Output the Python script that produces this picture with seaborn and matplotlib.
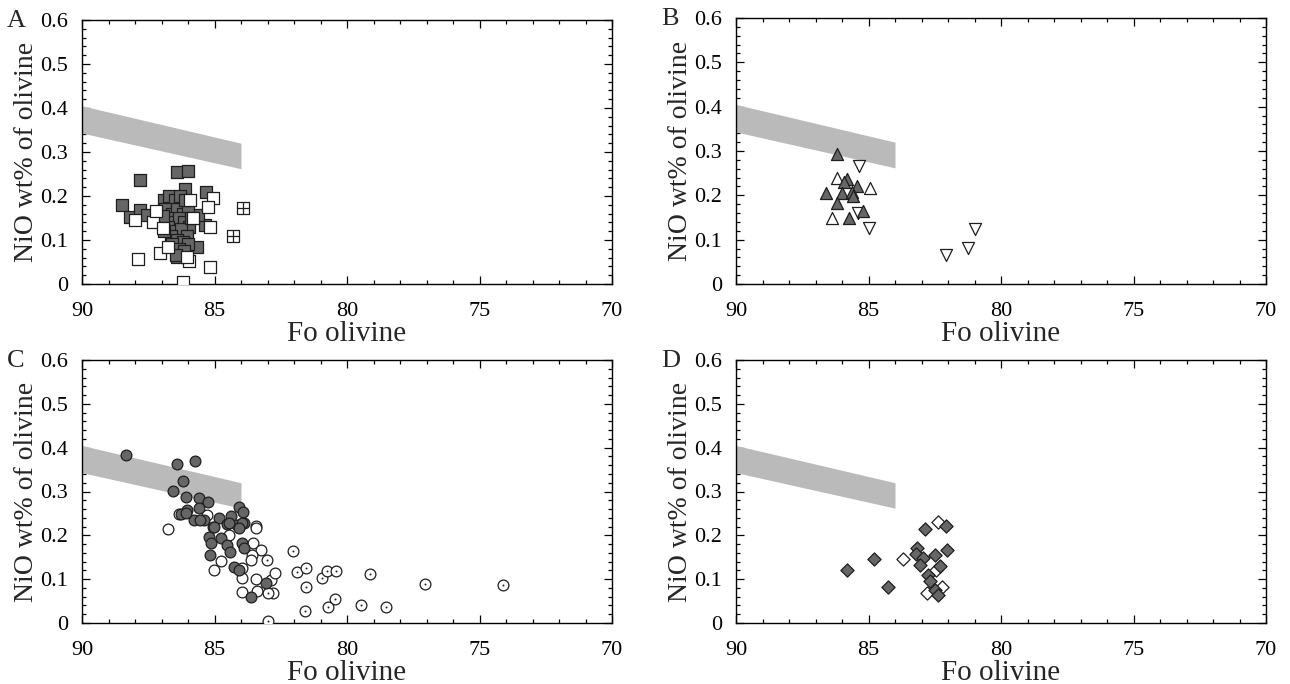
import numpy as np
import pandas as pd
import matplotlib
matplotlib.use("Agg")
import matplotlib.pyplot as plt
from matplotlib.ticker import MultipleLocator, FixedLocator
import seaborn as sns

# ---------------- data ----------------
# mantle olivine array (Fo, NiO upper, NiO lower)
band_fo = [90.0, 84.0]
band_hi = [0.405, 0.320]
band_lo = [0.343, 0.262]

# Panel A: squares
a_fill_fo = [88.50, 88.19, 87.81, 87.81, 87.56, 86.43, 85.99, 85.32, 86.11, 85.36,
             85.61, 85.67, 86.43, 86.90, 86.70, 86.50, 86.30, 86.85, 86.60, 86.40,
             86.20, 86.00, 86.80, 86.55, 86.35, 86.15, 85.95, 86.75, 86.50, 86.25,
             86.05, 86.65, 86.40, 86.20, 86.00, 86.60, 86.35, 86.15, 86.45, 86.90,
             86.95, 85.90, 86.30, 86.10]
a_fill_ni = [0.180, 0.153, 0.236, 0.168, 0.157, 0.254, 0.256, 0.210, 0.215, 0.134,
             0.157, 0.085, 0.062, 0.190, 0.200, 0.190, 0.180, 0.170, 0.160, 0.170,
             0.160, 0.170, 0.150, 0.140, 0.150, 0.140, 0.130, 0.130, 0.120, 0.125,
             0.110, 0.110, 0.100, 0.095, 0.090, 0.090, 0.080, 0.075, 0.065, 0.120,
             0.155, 0.150, 0.200, 0.190]
a_open_fo = [87.87, 87.06, 85.95, 85.17, 86.18, 87.31, 87.21, 88.00, 85.05, 85.23,
             85.17, 85.92, 86.74, 86.05, 86.93, 85.80]
a_open_ni = [0.057, 0.071, 0.053, 0.038, 0.005, 0.142, 0.166, 0.145, 0.195, 0.176,
             0.130, 0.190, 0.085, 0.062, 0.127, 0.149]
a_cross_fo = [83.91, 84.29]
a_cross_ni = [0.172, 0.108]

# Panel B: triangles
b_fill_fo = [86.19, 85.81, 85.94, 86.60, 86.00, 85.42, 85.63, 85.59, 86.17, 85.73, 85.19]
b_fill_ni = [0.293, 0.236, 0.229, 0.205, 0.206, 0.220, 0.208, 0.198, 0.183, 0.149, 0.164]
b_up_fo = [86.17, 84.94, 86.36]
b_up_ni = [0.238, 0.217, 0.149]
b_down_fo = [85.34, 85.38, 85.00, 82.07, 81.23, 80.97]
b_down_ni = [0.267, 0.161, 0.127, 0.066, 0.082, 0.123]

# Panel C: circles
c_fill_fo = [88.33, 86.41, 85.72, 86.18, 86.58, 86.07, 85.59, 85.24, 85.59, 84.08,
             83.92, 86.03, 86.28, 85.78, 85.40, 84.84, 84.37, 84.14, 83.89, 85.05,
             84.52, 86.09, 85.53, 85.03, 84.46, 83.95, 84.08, 85.21, 85.15, 84.77,
             84.52, 84.40, 83.95, 83.89, 85.18, 84.27, 84.08, 83.04, 83.64]
c_fill_ni = [0.383, 0.363, 0.370, 0.325, 0.301, 0.287, 0.286, 0.275, 0.263, 0.265,
             0.253, 0.258, 0.249, 0.235, 0.235, 0.239, 0.245, 0.224, 0.227, 0.220,
             0.226, 0.250, 0.235, 0.220, 0.227, 0.227, 0.216, 0.197, 0.182, 0.193,
             0.178, 0.163, 0.182, 0.170, 0.155, 0.128, 0.122, 0.091, 0.060]
c_open_fo = [86.35, 85.28, 83.45, 86.75, 84.46, 83.42, 83.54, 83.23, 83.58, 83.62,
             83.95, 84.74, 85.03, 83.95, 83.45, 82.86, 82.72, 83.95, 83.39, 82.78]
c_open_ni = [0.249, 0.246, 0.221, 0.214, 0.201, 0.216, 0.183, 0.167, 0.155, 0.144,
             0.125, 0.142, 0.121, 0.102, 0.100, 0.098, 0.113, 0.071, 0.073, 0.068]
c_dot_fo = [83.01, 82.99, 82.99, 82.05, 81.88, 81.53, 81.53, 81.59, 80.94, 80.75,
            80.40, 80.46, 80.71, 79.49, 79.15, 78.51, 77.06, 74.12]
c_dot_ni = [0.144, 0.068, 0.005, 0.165, 0.116, 0.125, 0.081, 0.028, 0.102, 0.119,
            0.119, 0.055, 0.037, 0.040, 0.111, 0.037, 0.088, 0.086]

# Panel D: diamonds
d_fill_fo = [85.82, 84.78, 84.27, 82.09, 82.87, 82.05, 83.18, 83.21, 82.95, 83.06,
             82.49, 82.30, 82.74, 82.68, 82.49, 82.37]
d_fill_ni = [0.122, 0.146, 0.083, 0.222, 0.214, 0.167, 0.170, 0.157, 0.148, 0.132,
             0.154, 0.131, 0.110, 0.096, 0.075, 0.064]
d_open_fo = [82.37, 83.69, 82.45, 82.24, 82.78]
d_open_ni = [0.231, 0.145, 0.122, 0.083, 0.068]

x_ticks = [90, 85, 80, 75, 70]
y_ticks = [0, 0.1, 0.2, 0.3, 0.4, 0.5, 0.6]
y_ticklabels = ["0", "0.1", "0.2", "0.3", "0.4", "0.5", "0.6"]

# ---------------- style ----------------
sns.set_theme(style="ticks")
plt.rcParams["font.family"] = ["Liberation Serif", "DejaVu Serif"]
plt.rcParams["axes.linewidth"] = 1.0

FILL = "#666666"
EDGE = "#1e1e1e"

fig = plt.figure(figsize=(12.9, 6.84), dpi=100)
W, H = 1290.0, 684.0
ax_w = 530 / W
pos = {
    "A": [82 / W, 1 - 284 / H, ax_w, 264 / H],
    "B": [736 / W, 1 - 284 / H, ax_w, 266 / H],
    "C": [82 / W, 1 - 623 / H, ax_w, 263 / H],
    "D": [736 / W, 1 - 623 / H, ax_w, 263 / H],
}


def scatter(ax, fo, ni, marker, size, face, lw=0.9):
    df = pd.DataFrame({"Fo": fo, "NiO": ni})
    sns.scatterplot(data=df, x="Fo", y="NiO", ax=ax, marker=marker, s=size,
                    color=face, edgecolor=EDGE, linewidth=lw, zorder=3)


def setup(ax, letter):
    ax.fill_between(band_fo, band_lo, band_hi, color="#bababa", linewidth=0, zorder=1)
    ax.set_xlim(90, 70)
    ax.set_ylim(0, 0.6)
    ax.xaxis.set_major_locator(FixedLocator(x_ticks))
    ax.set_xticklabels([str(t) for t in x_ticks])
    ax.xaxis.set_minor_locator(MultipleLocator(1))
    ax.yaxis.set_major_locator(FixedLocator(y_ticks))
    ax.set_yticklabels(y_ticklabels)
    ax.yaxis.set_minor_locator(MultipleLocator(0.02))
    ax.tick_params(which="both", direction="in", top=True, right=True,
                   labelsize=16, colors="black", width=0.9)
    ax.tick_params(which="major", length=6)
    ax.tick_params(which="minor", length=3)
    ax.tick_params(axis="x", which="major", pad=13)
    ax.tick_params(axis="y", which="major", pad=10)
    ax.set_xlabel("Fo olivine", fontsize=21, labelpad=0)
    ax.set_ylabel("NiO wt% of olivine", fontsize=20, labelpad=1)
    for sp in ax.spines.values():
        sp.set_visible(True)
        sp.set_color("black")
    ax.text(-0.142, 0.975, letter, transform=ax.transAxes, fontsize=19,
            ha="left", va="baseline")


axA = fig.add_axes(pos["A"])
setup(axA, "A")
scatter(axA, a_fill_fo, a_fill_ni, "s", 80, FILL)
scatter(axA, a_open_fo, a_open_ni, "s", 80, "white")
scatter(axA, a_cross_fo, a_cross_ni, "s", 80, "white")
axA.scatter(a_cross_fo, a_cross_ni, marker="+", s=80, color=EDGE, linewidth=0.9, zorder=4)

axB = fig.add_axes(pos["B"])
setup(axB, "B")
scatter(axB, b_up_fo, b_up_ni, "^", 75, "white")
scatter(axB, b_down_fo, b_down_ni, "v", 75, "white")
scatter(axB, b_fill_fo, b_fill_ni, "^", 75, FILL)

axC = fig.add_axes(pos["C"])
setup(axC, "C")
scatter(axC, c_open_fo, c_open_ni, "o", 60, "white")
scatter(axC, c_dot_fo, c_dot_ni, "o", 60, "white")
axC.scatter(c_dot_fo, c_dot_ni, marker="o", s=2, color=EDGE, linewidth=0, zorder=4)
scatter(axC, c_fill_fo, c_fill_ni, "o", 60, FILL)

axD = fig.add_axes(pos["D"])
setup(axD, "D")
scatter(axD, d_open_fo, d_open_ni, "D", 45, "white")
scatter(axD, d_fill_fo, d_fill_ni, "D", 45, FILL)

fig.savefig("out.png", dpi=100)
